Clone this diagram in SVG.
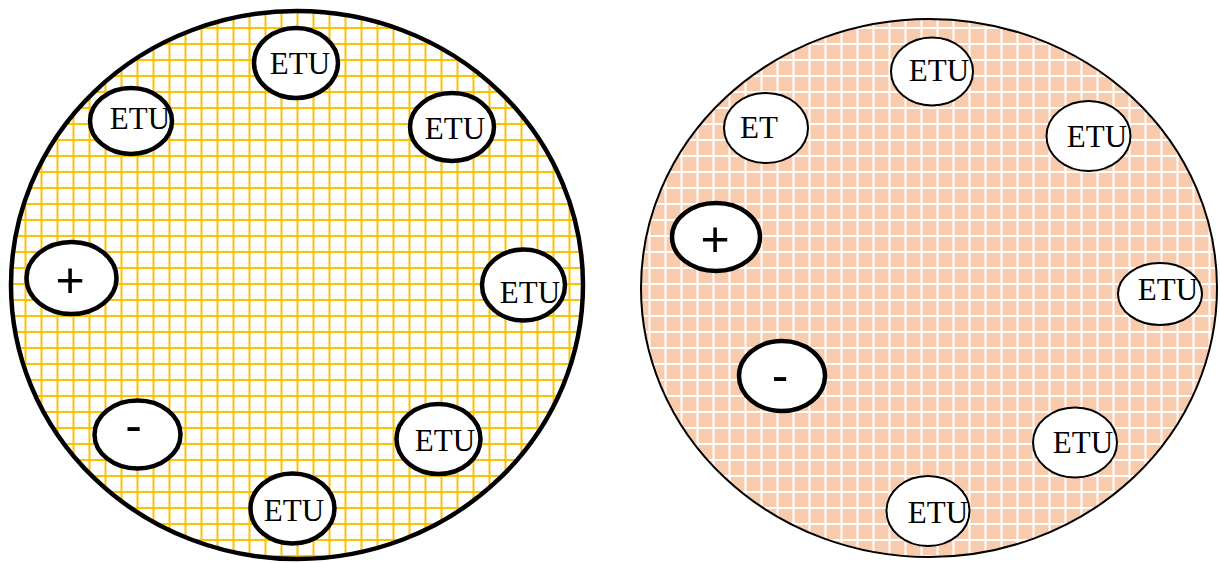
<svg xmlns="http://www.w3.org/2000/svg" width="1220" height="563" viewBox="0 0 1220 563">
<defs>
<pattern id="gridY" patternUnits="userSpaceOnUse" x="8.5" y="11" width="16" height="16">
<rect width="16" height="16" fill="#ffffff"/>
<rect x="0" y="0" width="2" height="16" fill="#FFC000"/>
<rect x="0" y="0" width="16" height="2" fill="#FFC000"/>
</pattern>
<pattern id="gridO" patternUnits="userSpaceOnUse" x="8.5" y="11" width="16" height="16">
<rect width="16" height="16" fill="#F8CBAD"/>
<rect x="0" y="0" width="2" height="16" fill="#ffffff"/>
<rect x="0" y="0" width="16" height="2" fill="#ffffff"/>
</pattern>
</defs>
<style>
.big1{fill:url(#gridY);stroke:#000;stroke-width:4.5}
.big2{fill:url(#gridO);stroke:#000;stroke-width:2}
.thick{fill:#fff;stroke:#000;stroke-width:4.5}
.thin{fill:#fff;stroke:#000;stroke-width:2}
.lbl{font-family:"Liberation Serif","Times New Roman",serif;font-size:31px;fill:#000;text-anchor:middle}
.sym{font-family:"Liberation Sans",Arial,sans-serif;font-size:50px;fill:#000;text-anchor:middle}
</style>
<g id="left-cell">
<ellipse class="big1" cx="297" cy="285" rx="286" ry="274"/>
</g>
<g id="right-cell">
<ellipse class="big2" cx="929" cy="288" rx="288" ry="269"/>
</g>
<g id="L-etu-top"><ellipse class="thick" cx="296" cy="63" rx="42" ry="35"/><text class="lbl" x="300" y="74">ETU</text></g>
<g id="L-etu-ul"><ellipse class="thick" cx="131" cy="121" rx="41" ry="33"/><text class="lbl" x="140" y="129">ETU</text></g>
<g id="L-etu-ur"><ellipse class="thick" cx="452" cy="127" rx="42" ry="34"/><text class="lbl" x="455" y="139">ETU</text></g>
<g id="L-plus"><ellipse class="thick" cx="71.5" cy="278" rx="45" ry="36"/><text class="sym" x="70" y="297">+</text></g>
<g id="L-etu-r"><ellipse class="thick" cx="523.5" cy="285" rx="41.5" ry="35.5"/><text class="lbl" x="530" y="303">ETU</text></g>
<g id="L-minus"><ellipse class="thick" cx="137.5" cy="434.5" rx="43" ry="34"/><text class="sym" x="133.5" y="442">-</text></g>
<g id="L-etu-lr"><ellipse class="thick" cx="438.5" cy="439" rx="42" ry="35"/><text class="lbl" x="445" y="451">ETU</text></g>
<g id="L-etu-bot"><ellipse class="thick" cx="292.5" cy="508.5" rx="42" ry="35"/><text class="lbl" x="294" y="521">ETU</text></g>
<g id="R-etu-top"><ellipse class="thin" cx="932" cy="71.5" rx="41" ry="34"/><text class="lbl" x="939" y="81">ETU</text></g>
<g id="R-et"><ellipse class="thin" cx="766" cy="128" rx="42" ry="35"/><text class="lbl" x="759" y="138">ET</text></g>
<g id="R-etu-ur"><ellipse class="thin" cx="1088.5" cy="136" rx="42" ry="35"/><text class="lbl" x="1097" y="147">ETU</text></g>
<g id="R-plus"><ellipse class="thick" cx="716" cy="237" rx="44" ry="34"/><text class="sym" x="715" y="256">+</text></g>
<g id="R-etu-r"><ellipse class="thin" cx="1160" cy="294" rx="42" ry="31"/><text class="lbl" x="1168" y="300">ETU</text></g>
<g id="R-minus"><ellipse class="thick" cx="782" cy="376" rx="43" ry="35"/><text class="sym" x="780" y="392">-</text></g>
<g id="R-etu-lr"><ellipse class="thin" cx="1075" cy="442.5" rx="42" ry="35"/><text class="lbl" x="1083" y="453">ETU</text></g>
<g id="R-etu-bot"><ellipse class="thin" cx="928" cy="511" rx="41.5" ry="35"/><text class="lbl" x="938" y="523">ETU</text></g>
<g id="connectors"></g>
</svg>
